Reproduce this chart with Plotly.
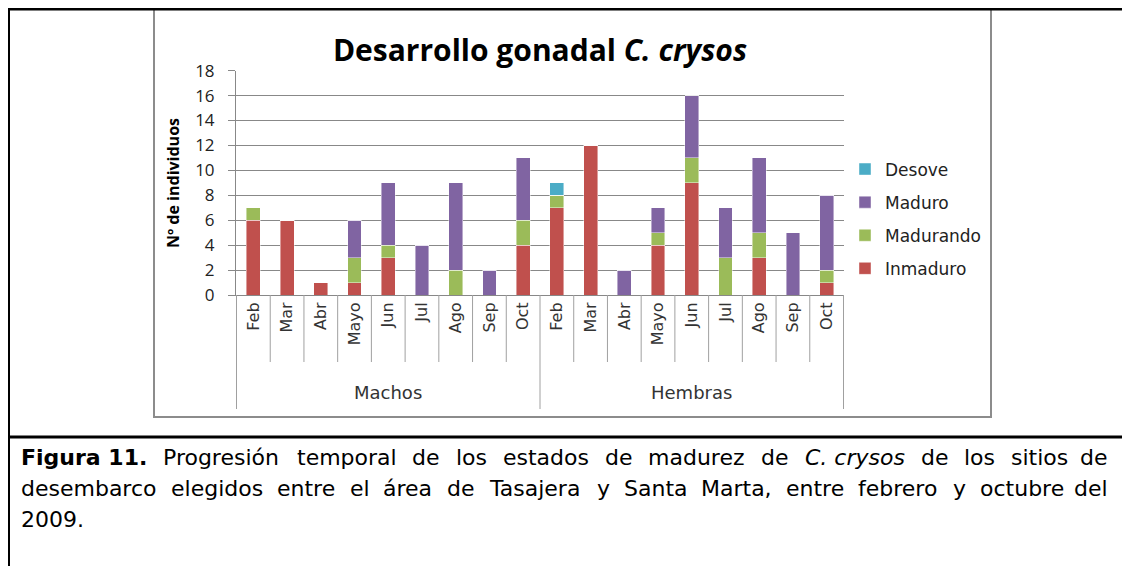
import plotly.graph_objects as go

groups = ["Machos"] * 9 + ["Hembras"] * 9
months = ["Feb", "Mar", "Abr", "Mayo", "Jun", "Jul", "Ago", "Sep", "Oct"] * 2
group_names = ["Machos", "Hembras"]

inmaduro  = [6, 6, 1, 1, 3, 0, 0, 0, 4,   7, 12, 0, 4, 9, 0, 3, 0, 1]
madurando = [1, 0, 0, 2, 1, 0, 2, 0, 2,   1, 0, 0, 1, 2, 3, 2, 0, 1]
maduro    = [0, 0, 0, 3, 5, 4, 7, 2, 5,   0, 0, 2, 2, 5, 4, 6, 5, 6]
desove    = [0, 0, 0, 0, 0, 0, 0, 0, 0,   1, 0, 0, 0, 0, 0, 0, 0, 0]

series_names = ["Inmaduro", "Madurando", "Maduro", "Desove"]
series_vals = [inmaduro, madurando, maduro, desove]
series_cols = ["#C0504D", "#9BBB59", "#8064A2", "#4BACC6"]

caption_lines = [
    ["<b>Figura 11.</b>", "Progresión", "temporal", "de", "los", "estados", "de", "madurez",
     "de", "<i>C. crysos</i>", "de", "los", "sitios", "de"],
    ["desembarco", "elegidos", "entre", "el", "área", "de", "Tasajera", "y", "Santa",
     "Marta,", "entre", "febrero", "y", "octubre", "del"],
    ["2009."],
]

# ---- page geometry (browser body has an 8px margin) ----
OFF = 8
FW, FH = 1130 - OFF, 566 - OFF


def PX(x):
    return (x - OFF) / FW


def PY(y):
    return 1 - (y - OFF) / FH


px0, px1 = 236, 844
py_top, py_zero = 70.7, 295

cats = [f"{g}|{m}" for g, m in zip(groups, months)]

fig = go.Figure()
for name, vals, col, rank in zip(series_names, series_vals, series_cols, [4, 3, 2, 1]):
    fig.add_trace(go.Bar(
        x=cats, y=vals, name=name, legendgroup=name, legendrank=rank,
        marker=dict(color=col, line=dict(color="rgba(255,255,255,0.55)", width=0.8)),
    ))

GRID = "#888888"
fig.update_layout(
    width=FW, height=FH, barmode="stack", bargap=0.59,
    paper_bgcolor="white", plot_bgcolor="white",
    margin=dict(l=0, r=0, t=0, b=0, autoexpand=False),
    font=dict(family="DejaVu Sans", color="black"),
    xaxis=dict(
        domain=[PX(px0), PX(px1)], type="category", automargin=False,
        tickmode="array", tickvals=cats, ticktext=months,
        tickangle=-90, tickfont=dict(family="DejaVu Sans", size=16, color="#333"),
        ticks="", showline=True, linecolor=GRID, linewidth=1, showgrid=False,
    ),
    yaxis=dict(
        domain=[PY(py_zero), PY(py_top)], range=[0, 18], dtick=2, automargin=False,
        tickfont=dict(family="Open Sans", size=17, color="#222"),
        showgrid=True, gridcolor=GRID, gridwidth=1,
        showline=True, linecolor=GRID, linewidth=1,
        ticks="outside", ticklen=7, tickcolor=GRID, zeroline=False,
        ticklabelstandoff=10,
    ),
    legend=dict(
        x=PX(845), y=PY(219), xanchor="left", yanchor="middle",
        traceorder="grouped", tracegroupgap=8,
        font=dict(family="DejaVu Sans", size=17, color="#222"),
    ),
    title=dict(
        text="<b>Desarrollo gonadal <i>C. crysos</i></b>",
        x=PX(540), xanchor="center", y=PY(50), yanchor="middle",
        font=dict(family="Open Sans", size=30, color="black"),
    ),
)

shapes = [
    dict(type="rect", xref="paper", yref="paper", x0=PX(154), x1=PX(991), y0=PY(417), y1=PY(9),
         line=dict(color="#8c8c8c", width=2)),
    dict(type="line", xref="paper", yref="paper", x0=PX(8), x1=1, y0=PY(9), y1=PY(9),
         line=dict(color="black", width=3)),
    dict(type="line", xref="paper", yref="paper", x0=PX(9), x1=PX(9), y0=0, y1=PY(9),
         line=dict(color="black", width=2)),
    dict(type="line", xref="paper", yref="paper", x0=PX(8), x1=1, y0=PY(437), y1=PY(437),
         line=dict(color="black", width=3)),
]
# category separators below the axis
n = len(cats)
per_group = n // len(group_names)
for i in range(n + 1):
    is_group = (i % per_group == 0)
    shapes.append(dict(type="line", xref="x", yref="paper", x0=i - 0.5, x1=i - 0.5,
                       y0=PY(409 if is_group else 362), y1=PY(py_zero),
                       line=dict(color="#a0a0a0", width=1)))
fig.update_layout(shapes=shapes)

# group labels
for gi, g in enumerate(group_names):
    fig.add_annotation(text=g, xref="x", yref="paper", x=gi * per_group + (per_group - 1) / 2,
                       y=PY(392), xanchor="center", yanchor="middle", showarrow=False,
                       font=dict(family="DejaVu Sans", size=18, color="#333"))

# y axis title
fig.add_annotation(text="<b>Nº de individuos</b>", xref="paper", yref="paper",
                   x=PX(173), y=PY(183), textangle=-90, showarrow=False,
                   xanchor="center", yanchor="middle",
                   font=dict(family="Open Sans", size=16, color="black"))

# ---- caption, justified with approximate DejaVu Sans advance widths ----
REG = {' ': 651, '.': 651, ',': 651, 'a': 1255, 'b': 1300, 'c': 1126, 'd': 1300, 'e': 1260,
       'f': 721, 'g': 1300, 'h': 1298, 'i': 569, 'j': 569, 'k': 1186, 'l': 569, 'm': 1995,
       'n': 1298, 'o': 1253, 'p': 1300, 'q': 1300, 'r': 842, 's': 1067, 't': 803, 'u': 1298,
       'v': 1212, 'w': 1675, 'x': 1212, 'y': 1212, 'z': 1075, 'á': 1255, 'ó': 1253,
       'C': 1430, 'F': 1178, 'M': 1767, 'P': 1235, 'S': 1300, 'T': 1251}
BOLD = {' ': 713, '.': 780, 'F': 1413, 'i': 702, 'g': 1466, 'u': 1458, 'r': 1010, 'a': 1382}


def text_width(word, size):
    bold = word.startswith("<b>")
    plain = word.replace("<b>", "").replace("</b>", "").replace("<i>", "").replace("</i>", "")
    tot = 0
    for ch in plain:
        if ch.isdigit():
            tot += 1425 if bold else 1303
        elif bold and ch in BOLD:
            tot += BOLD[ch]
        else:
            tot += REG.get(ch, 1250) * (1.1 if bold else 1.0)
    return tot / 2048 * size


CAP_SIZE = 22
cap_x0, cap_x1 = 19, 1110
cap_ys = [457, 488, 519]
for li, (words, yy) in enumerate(zip(caption_lines, cap_ys)):
    widths = [text_width(w, CAP_SIZE) for w in words]
    justify = li < len(caption_lines) - 1 and len(words) > 1
    if justify:
        gap = (cap_x1 - cap_x0 - sum(widths)) / (len(words) - 1)
    else:
        gap = text_width(" ", CAP_SIZE)
    x = cap_x0
    for wi, (w, wd) in enumerate(zip(words, widths)):
        last = justify and wi == len(words) - 1
        fig.add_annotation(text=w, xref="paper", yref="paper",
                           x=PX(cap_x1 if last else x), y=PY(yy),
                           xanchor="right" if last else "left", yanchor="middle",
                           showarrow=False,
                           font=dict(family="DejaVu Sans", size=CAP_SIZE, color="black"))
        x += wd + gap

fig.write_html("out.html")
